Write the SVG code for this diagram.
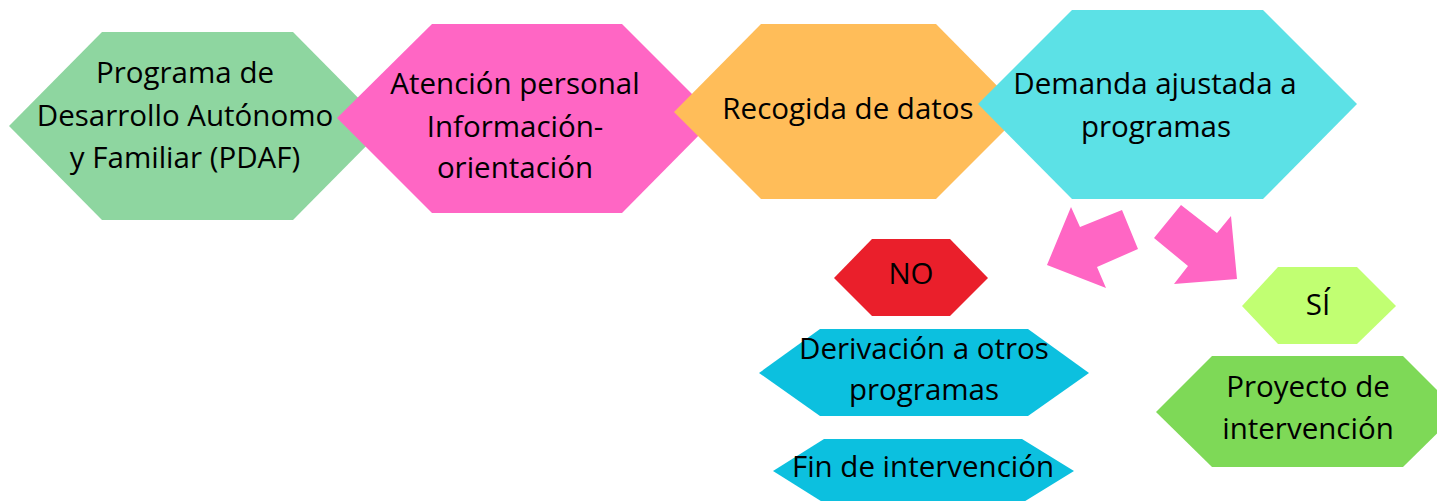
<svg xmlns="http://www.w3.org/2000/svg" width="1437" height="501" viewBox="0 0 1437 501">
<style>
text{font-family:"Open Sans","Noto Sans",sans-serif;font-size:29.5px;fill:#000;text-anchor:middle}
</style>
<rect width="1437" height="501" fill="#fff"/>
<g id="n1"><polygon points="9,126 102,32 293,32 386,126 293,220 102,220" fill="#8ED6A0"/>
<text x="185" y="83">Programa de</text><text x="185" y="126">Desarrollo Autónomo</text><text x="185" y="168">y Familiar (PDAF)</text></g>
<g id="n2"><polygon points="337,118 432,24 622,24 716,118 622,213 432,213" fill="#FF66C4"/>
<text x="515" y="94">Atención personal</text><text x="515" y="137">Información-</text><text x="515" y="178">orientación</text></g>
<g id="n3"><polygon points="674,112 761,24 936,24 1023,112 936,199 761,199" fill="#FFBD59"/>
<text x="848" y="119">Recogida de datos</text></g>
<g id="n4"><polygon points="978,104 1072,10 1263,10 1357,104 1263,199 1072,199" fill="#5CE1E6"/>
<text x="1155" y="94">Demanda ajustada a</text><text x="1156" y="137">programas</text></g>
<g id="connectors" fill="#FF66C4">
<polygon points="1071,207 1080,227 1122,210 1138,249 1097,267 1106,288 1047,265"/>
<polygon points="1181,205 1217,233 1231,216 1237,279 1174,284 1188,266 1154,238"/>
</g>
<g id="no"><polygon points="834,278 872,239 950,239 988,278 950,316 872,316" fill="#EA1F2B"/>
<text x="911" y="284">NO</text></g>
<g id="derivacion"><polygon points="759,373 820,329 1028,329 1089,373 1028,416 820,416" fill="#0CC0DF"/>
<text x="924" y="359">Derivación a otros</text><text x="924" y="400">programas</text></g>
<g id="fin"><polygon points="773,471 824,439 1022,439 1074,471 1022,503 824,503" fill="#0CC0DF"/>
<text x="923" y="477">Fin de intervención</text></g>
<g id="si"><polygon points="1242,306 1278,267 1357,267 1396,306 1357,344 1278,344" fill="#C1FF72"/>
<text x="1318" y="315">SÍ</text></g>
<g id="proyecto"><polygon points="1156,412 1212,356 1403,356 1459,412 1403,467 1212,467" fill="#7ED957"/>
<text x="1308" y="397">Proyecto de</text><text x="1308" y="439">intervención</text></g>
</svg>
